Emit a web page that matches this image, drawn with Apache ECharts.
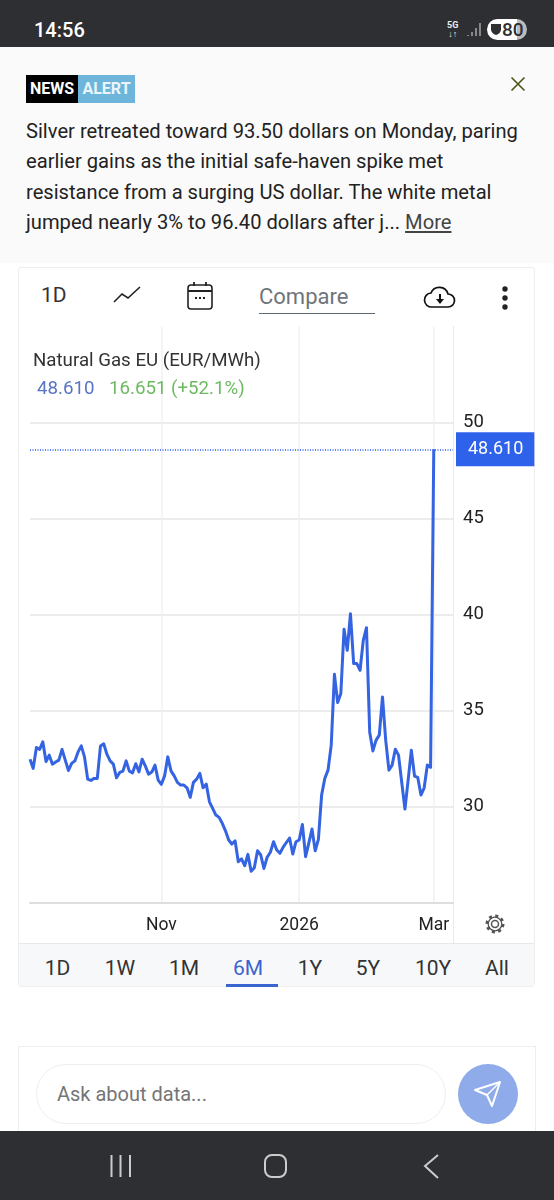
<!DOCTYPE html>
<html><head><meta charset="utf-8">
<style>
html,body{margin:0;padding:0;background:#fff;width:554px;height:1200px;overflow:hidden;font-family:Roboto,sans-serif;}
.a{position:absolute;white-space:nowrap;}
#chart{position:absolute;left:0;top:0;width:554px;height:1200px;}
.line{left:26px;font-size:20.15px;color:#222;line-height:30px;height:30px;}
.tab{top:956px;font-size:21px;color:#333;line-height:24px;transform:translateX(-50%);}
</style></head><body>
<div class="a" style="left:0;top:0;width:554px;height:47px;background:#2e2f33"></div>
<div class="a" style="left:34px;top:18px;font-size:20px;font-weight:500;color:#fff;line-height:24px">14:56</div>
<div class="a" style="left:447px;top:21px;font-size:9px;font-weight:700;color:#eee;line-height:9px;text-align:center">5G<br>↓↑</div>
<svg class="a" style="left:466px;top:20px" width="18" height="18"><path d="M2 16v-1M6 16v-4M10 16v-8M14 16V3" stroke="#888" stroke-width="2" fill="none"/></svg>
<div class="a" style="left:487px;top:19px;width:40px;height:21px;border-radius:11px;background:linear-gradient(90deg,#fff 75%,#bbb 75%)"></div>
<svg class="a" style="left:490px;top:23px" width="12" height="13"><path d="M1 1h10v6q-1 4-5 5q-4-1-5-5z" fill="#2e2f33"/></svg>
<div class="a" style="left:502px;top:18px;font-size:19px;font-weight:500;color:#2e2f33;line-height:24px">80</div>

<div class="a" style="left:0;top:47px;width:554px;height:216px;background:#fafafa"></div>
<div class="a" style="left:26px;top:75px;width:52px;height:28px;background:#000;color:#fff;font-size:16px;font-weight:700;line-height:28px;text-align:center">NEWS</div>
<div class="a" style="left:78px;top:75px;width:57px;height:28px;background:#6db5da;color:#eaf6fb;font-size:16px;font-weight:700;line-height:28px;text-align:center">ALERT</div>
<svg class="a" style="left:510px;top:76px" width="16" height="16"><path d="M1.5 1.5L14.5 14.5M14.5 1.5L1.5 14.5" stroke="#4b5518" stroke-width="1.6"/></svg>
<div class="a line" style="top:116px">Silver retreated toward 93.50 dollars on Monday, paring</div>
<div class="a line" style="top:146px">earlier gains as the initial safe-haven spike met</div>
<div class="a line" style="top:177px">resistance from a surging US dollar. The white metal</div>
<div class="a line" style="top:207px">jumped nearly 3% to 96.40 dollars after j... <span style="text-decoration:underline;color:#444">More</span></div>

<div class="a" style="left:18px;top:267px;width:517px;height:720px;border:1px solid #eee;box-sizing:border-box;border-radius:3px;background:#fff"></div>
<div class="a" style="left:41px;top:283px;font-size:21px;color:#333;line-height:24px">1D</div>
<svg class="a" style="left:112px;top:285px" width="30" height="20"><path d="M2 17L10 9L16 13L28 2" stroke="#222" stroke-width="1.6" fill="none"/></svg>
<svg class="a" style="left:186px;top:280px" width="28" height="30"><rect x="2" y="5" width="24" height="24" rx="3" stroke="#222" stroke-width="1.6" fill="none"/><path d="M2 11H26M8 2V6M20 2V6" stroke="#222" stroke-width="1.8"/><path d="M9 18h2M13 18h2M17 18h2" stroke="#222" stroke-width="2"/></svg>
<div class="a" style="left:259px;top:284px;font-size:22px;color:#6e7479;line-height:26px">Compare</div>
<div class="a" style="left:259px;top:313px;width:116px;height:1px;background:#5e6a74"></div>
<svg class="a" style="left:423px;top:285px" width="34" height="24"><path d="M9 22a7 7 0 0 1-1-14a9 9 0 0 1 17 1a6.500 6.500 0 0 1 0 13z" stroke="#111" stroke-width="1.7" fill="none"/><path d="M17 9v7" stroke="#111" stroke-width="2"/><path d="M13 14l4 5l4-5z" fill="#111"/></svg>
<svg class="a" style="left:500px;top:284px" width="10" height="28"><circle cx="5" cy="5" r="2.700" fill="#222"/><circle cx="5" cy="14" r="2.700" fill="#222"/><circle cx="5" cy="23" r="2.700" fill="#222"/></svg>

<div class="a" style="left:453px;top:903px;width:1px;height:40px;background:#eaeaea"></div>
<svg class="a" style="left:484px;top:913px" width="22" height="22" viewBox="0 0 22 22"><circle cx="11" cy="11" r="3.500" stroke="#555" stroke-width="1.500" fill="none"/><circle cx="11" cy="11" r="8" stroke="#555" stroke-width="3" stroke-dasharray="3 3.280" fill="none"/><circle cx="11" cy="11" r="6.800" stroke="#555" stroke-width="1.300" fill="none"/></svg>

<div class="a" style="left:19px;top:943px;width:515px;height:43px;background:#f7f8fa;border-top:1px solid #e8e8e8;box-sizing:border-box"></div>
<div class="a tab" style="left:57.500px">1D</div><div class="a tab" style="left:120px">1W</div><div class="a tab" style="left:184px">1M</div>
<div class="a tab" style="left:248px;color:#3a64d0">6M</div><div class="a tab" style="left:310px">1Y</div><div class="a tab" style="left:368px">5Y</div>
<div class="a tab" style="left:433px">10Y</div><div class="a tab" style="left:497px">All</div>
<div class="a" style="left:226px;top:984px;width:52px;height:3px;background:#3a64d0"></div>

<div class="a" style="left:18px;top:1046px;width:518px;height:90px;border:1px solid #eee;box-sizing:border-box"></div>
<div class="a" style="left:36px;top:1064px;width:410px;height:60px;border:1px solid #eee;border-radius:30px;box-sizing:border-box;background:#fff"></div>
<div class="a" style="left:57px;top:1082px;font-size:20px;color:#757575;line-height:24px">Ask about data...</div>
<div class="a" style="left:458px;top:1064px;width:60px;height:60px;border-radius:30px;background:#8fabea"></div>
<svg class="a" style="left:472px;top:1078px" width="32" height="32"><path d="M3 12L28 4L20 28L15 17z" stroke="#fff" stroke-width="2" fill="none" stroke-linejoin="round"/><path d="M15 17L28 4" stroke="#fff" stroke-width="1.500"/></svg>

<div class="a" style="left:0;top:1131px;width:554px;height:69px;background:#2e2f33"></div>
<svg class="a" style="left:100px;top:1145px" width="350" height="44"><path d="M11.500 10V32M20.500 10V32M30 10V32" stroke="#ccc" stroke-width="2"/><rect x="165" y="10" width="21" height="22" rx="7" stroke="#ccc" stroke-width="2" fill="none"/><path d="M338 10L325 21L338 33" stroke="#ccc" stroke-width="2" fill="none"/></svg>

<div id="chart"></div>
<script src="https://cdn.jsdelivr.net/npm/echarts@6/dist/echarts.min.js"></script>
<script>
const chartTitle = 'Natural Gas EU (EUR/MWh)';
const lastValueText = '48.610';
const changeText = '16.651 (+52.1%)';
const seriesValues = [
32.46,31.99,33.08,32.98,33.37,32.35,32.68,32.21,32.32,32.42,
32.98,32.42,31.88,32.25,32.38,32.85,33.16,32.59,31.43,31.36,
31.47,31.47,33.16,33.27,32.73,32.38,32.21,31.50,31.78,31.85,
32.38,31.85,31.76,32.23,31.81,32.47,32.11,31.69,31.80,32.16,
31.38,31.16,31.60,32.59,31.86,31.60,31.26,31.12,31.12,30.98,
30.48,31.26,31.43,31.73,30.98,31.17,30.25,29.91,29.56,29.44,
29.13,28.74,28.26,28.05,28.22,27.13,27.28,26.92,27.51,26.63,
26.82,27.70,27.48,26.78,27.36,27.62,28.17,27.74,27.57,27.89,
28.13,28.36,27.53,28.17,28.26,29.07,27.39,28.10,28.83,27.70,
28.29,30.60,31.47,31.90,33.20,36.89,35.42,35.89,39.24,38.14,
40.05,37.45,37.45,37.10,38.66,39.32,33.89,32.90,33.46,33.72,
35.71,33.46,31.90,32.16,32.99,32.68,31.27,29.87,31.38,32.94,
31.59,31.52,30.60,30.98,32.17,32.04,48.61];
const xTickLabels = {41:'Nov', 84:'2026', 126:'Mar'};
const blankSlots = 6;
const categories = seriesValues.concat(new Array(blankSlots).fill(null)).map((_, i) => xTickLabels[i] || ('d' + i));
const yHidden = [25, 55];
const lineBlue = '#3564e2';

const chart = echarts.init(document.getElementById('chart'), null, {renderer:'canvas'});
chart.setOption({
  animation:false,
  backgroundColor:'transparent',
  textStyle:{fontFamily:'Roboto'},
  title:[
    {text:chartTitle,left:33,top:352,textStyle:{fontSize:18.7,fontWeight:'normal',color:'#333',fontFamily:'Roboto'},padding:0},
    {text:lastValueText,left:37,top:380,textStyle:{fontSize:18.7,fontWeight:'normal',color:'#5874c6',fontFamily:'Roboto'},padding:0},
    {text:changeText,left:109,top:380,textStyle:{fontSize:18.7,fontWeight:'normal',color:'#6dba62',fontFamily:'Roboto'},padding:0}
  ],
  grid:{left:30,right:101,top:326.6,bottom:297.4,containLabel:false},
  xAxis:{
    type:'category',data:categories,boundaryGap:false,
    axisLine:{lineStyle:{color:'#dedede',width:2}},
    axisTick:{show:false},
    axisLabel:{interval:(i)=>!!xTickLabels[i],formatter:(v)=>v,fontSize:17.5,color:'#222',margin:14,fontFamily:'Roboto',hideOverlap:false},
    splitLine:{show:true,interval:(i)=>!!xTickLabels[i],lineStyle:{color:'#f1f1f1',width:1.5}}
  },
  yAxis:{
    type:'value',position:'right',min:25,max:55,interval:5,
    axisLine:{show:true,lineStyle:{color:'#eaeaea',width:1}},
    axisTick:{show:false},
    axisLabel:{fontSize:18.5,color:'#222',margin:10,padding:[3,0,0,0],fontFamily:'Roboto',formatter:(v)=>yHidden.includes(v)?'':String(v)},
    splitLine:{show:true,showMaxLine:false,lineStyle:{color:'#e6e6e6',width:1.5}}
  },
  series:[{
    type:'line',data:seriesValues,showSymbol:false,symbol:'none',
    lineStyle:{color:lineBlue,width:3,join:'round'},
    itemStyle:{color:lineBlue},
    markLine:{
      silent:true,symbol:'none',
      lineStyle:{color:'#2a5ff0',type:[1,1.5],width:1.6},
      label:{position:'end',distance:3,formatter:lastValueText,color:'#fff',fontSize:18,fontFamily:'Roboto',
        backgroundColor:'#2f62ea',align:'left',lineHeight:20,padding:[8,11,6,12]},
      data:[{yAxis:seriesValues[seriesValues.length-1]}]
    }
  }]
});
</script>
</body></html>
